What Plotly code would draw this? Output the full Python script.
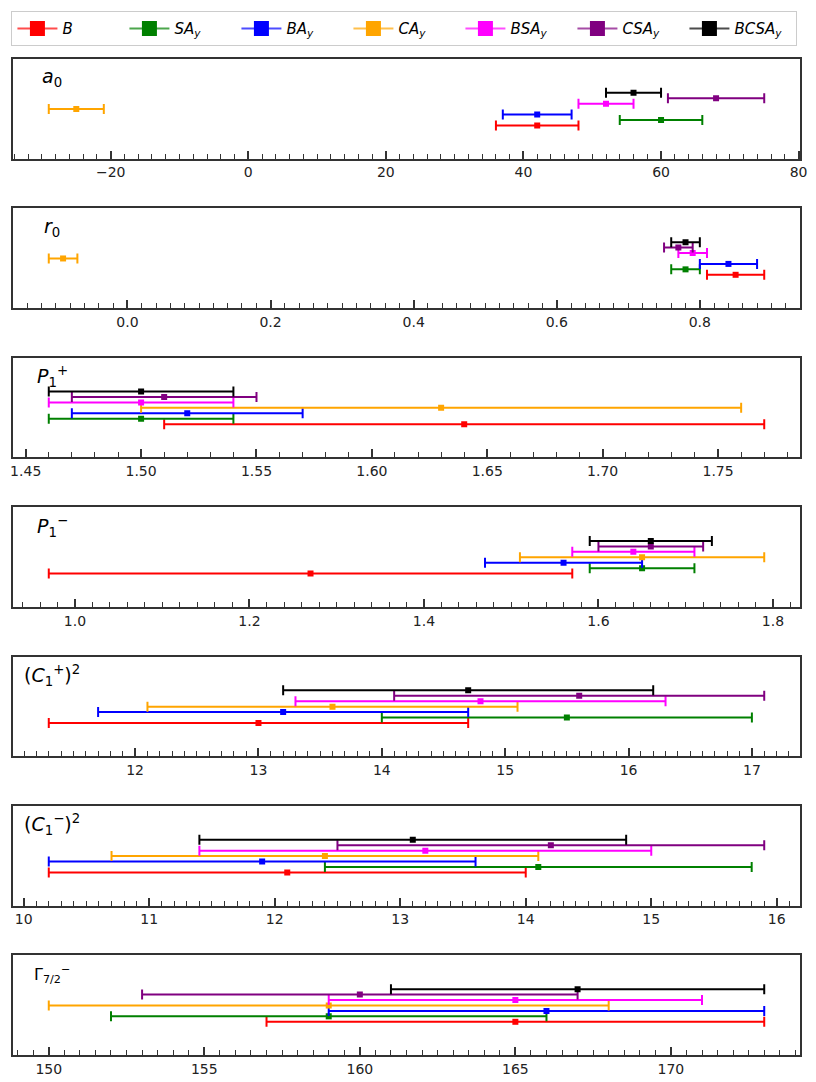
import plotly.graph_objects as go
from plotly.subplots import make_subplots

# series (bottom to top in every panel)
series = ["B", "SA_y", "BA_y", "CA_y", "BSA_y", "CSA_y", "BCSA_y"]
legend_labels = [
    "<i>B</i>",
    "<i>SA</i><sub><i>y</i></sub>",
    "<i>BA</i><sub><i>y</i></sub>",
    "<i>CA</i><sub><i>y</i></sub>",
    "<i>BSA</i><sub><i>y</i></sub>",
    "<i>CSA</i><sub><i>y</i></sub>",
    "<i>BCSA</i><sub><i>y</i></sub>",
]
colors = ["#ff0000", "#008000", "#0000ff", "#ffa500", "#ff00ff", "#800080", "#000000"]
legend_line = ["rgba(255,0,0,0.7)", "rgba(0,128,0,0.7)", "rgba(0,0,255,0.7)",
               "rgba(255,165,0,0.7)", "rgba(255,0,255,0.7)", "rgba(128,0,128,0.7)",
               "rgba(0,0,0,0.7)"]
y_pos = [0, 1, 2, 3, 4, 5, 6]

# parameter values: central value, lower end, upper end
a0_val = [42, 60, 42, -25, 52, 68, 56]
a0_lo = [36, 54, 37, -29, 48, 61, 52]
a0_hi = [48, 66, 47, -21, 56, 75, 60]

r0_val = [0.85, 0.78, 0.84, -0.09, 0.79, 0.77, 0.78]
r0_lo = [0.81, 0.76, 0.80, -0.11, 0.77, 0.75, 0.76]
r0_hi = [0.89, 0.80, 0.88, -0.07, 0.81, 0.79, 0.80]

p1p_val = [1.64, 1.50, 1.52, 1.63, 1.50, 1.51, 1.50]
p1p_lo = [1.51, 1.46, 1.47, 1.50, 1.46, 1.47, 1.46]
p1p_hi = [1.77, 1.54, 1.57, 1.76, 1.54, 1.55, 1.54]

p1m_val = [1.27, 1.65, 1.56, 1.65, 1.64, 1.66, 1.66]
p1m_lo = [0.97, 1.59, 1.47, 1.51, 1.57, 1.60, 1.59]
p1m_hi = [1.57, 1.71, 1.65, 1.79, 1.71, 1.72, 1.73]

c1p_val = [13.0, 15.5, 13.2, 13.6, 14.8, 15.6, 14.7]
c1p_lo = [11.3, 14.0, 11.7, 12.1, 13.3, 14.1, 13.2]
c1p_hi = [14.7, 17.0, 14.7, 15.1, 16.3, 17.1, 16.2]

c1m_val = [12.1, 14.1, 11.9, 12.4, 13.2, 14.2, 13.1]
c1m_lo = [10.2, 12.4, 10.2, 10.7, 11.4, 12.5, 11.4]
c1m_hi = [14.0, 15.8, 13.6, 14.1, 15.0, 15.9, 14.8]

gam_val = [165, 159, 166, 159, 165, 160, 167]
gam_lo = [157, 152, 159, 150, 159, 153, 161]
gam_hi = [173, 166, 173, 168, 171, 167, 173]

panels = [
    ("<i>a</i><sub>0</sub>", a0_val, a0_lo, a0_hi, 20, 2, None),
    ("<i>r</i><sub>0</sub>", r0_val, r0_lo, r0_hi, 0.2, 0.02, ".1f"),
    ("<i>P</i><sub>1</sub><sup>+</sup>", p1p_val, p1p_lo, p1p_hi, 0.05, 0.01, ".2f"),
    ("<i>P</i><sub>1</sub><sup>\u2212</sup>", p1m_val, p1m_lo, p1m_hi, 0.2, 0.02, ".1f"),
    ("(<i>C</i><sub>1</sub><sup>+</sup>)<sup>2</sup>", c1p_val, c1p_lo, c1p_hi, 1, 0.1, None),
    ("(<i>C</i><sub>1</sub><sup>\u2212</sup>)<sup>2</sup>", c1m_val, c1m_lo, c1m_hi, 1, 0.1, None),
    ("\u0393<sub>7/2</sub><sup>\u2212</sup>", gam_val, gam_lo, gam_hi, 5, 0.5, None),
]

fig = make_subplots(rows=7, cols=1, vertical_spacing=0.05)

for r, (label, val, lo, hi, dt, mdt, fmt) in enumerate(panels, start=1):
    for i in range(len(series)):
        fig.add_trace(go.Scatter(
            x=[val[i]], y=[y_pos[i]], mode="markers",
            marker=dict(symbol="square", size=6, color=colors[i]),
            error_x=dict(type="data", symmetric=False,
                         array=[hi[i] - val[i]], arrayminus=[val[i] - lo[i]],
                         color=colors[i], thickness=2, width=5),
            showlegend=False, hoverinfo="x",
        ), row=r, col=1)
    xmin, xmax = min(lo), max(hi)
    pad = 0.05 * (xmax - xmin)
    fig.update_xaxes(
        range=[xmin - pad, xmax + pad], dtick=dt, tickformat=fmt,
        showline=True, mirror=True, linecolor="#333333", linewidth=2,
        ticks="inside", ticklen=8, tickwidth=1.5, tickcolor="#333333",
        minor=dict(ticks="inside", ticklen=5, tickwidth=1, tickcolor="#333333", dtick=mdt),
        showgrid=False, zeroline=False,
        tickfont=dict(size=14, color="#222222"),
        row=r, col=1,
    )
    fig.update_yaxes(
        range=[-6.1, 12.2], showticklabels=False, ticks="",
        showline=True, mirror=True, linecolor="#333333", linewidth=2,
        showgrid=False, zeroline=False, row=r, col=1,
    )
    xref = "x domain" if r == 1 else f"x{r} domain"
    yref = "y domain" if r == 1 else f"y{r} domain"
    fig.add_annotation(
        text=label, xref=xref, yref=yref, x=0.05, y=0.81,
        xanchor="center", yanchor="middle", showarrow=False,
        font=dict(size=19 if r < 7 else 16, color="#000000"),
    )

# legend entries: line with square marker, like an errorbar handle
for i in range(len(series)):
    fig.add_trace(go.Scatter(
        x=[None], y=[None], mode="lines+markers", name=legend_labels[i],
        line=dict(color=legend_line[i], width=2),
        marker=dict(symbol="square", size=15, color=colors[i]),
        showlegend=True,
    ), row=1, col=1)

fig.update_layout(
    width=816, height=1082,
    margin=dict(l=3, r=24, t=47, b=35),
    plot_bgcolor="white", paper_bgcolor="white",
    font=dict(family="DejaVu Sans", color="#222222"),
    legend=dict(
        orientation="h", x=-0.002, y=1.048, xanchor="left", yanchor="top",
        bordercolor="#cccccc", borderwidth=1, bgcolor="white",
        font=dict(size=15, color="#000000"),
        entrywidth=57, itemwidth=40,
    ),
)

fig.write_html("out.html")
